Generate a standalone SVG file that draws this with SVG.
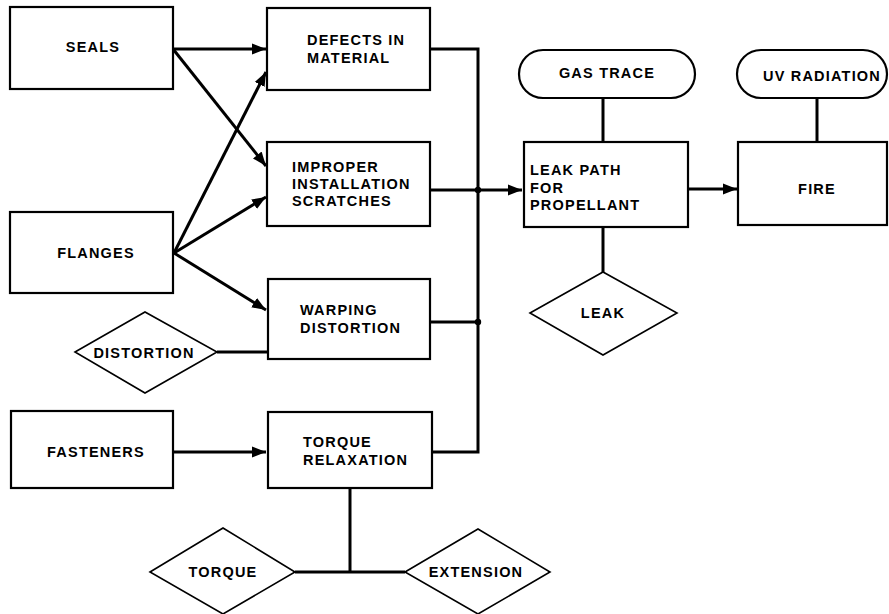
<svg xmlns="http://www.w3.org/2000/svg" width="889" height="614" viewBox="0 0 889 614">
  <style>
    .box { fill: #fff; stroke: #000; stroke-width: 2.2; }
    .dia { fill: #fff; stroke: #000; stroke-width: 1.6; }
    .con { fill: none; stroke: #000; stroke-width: 3; }
    .lbl { font-family: "Liberation Sans", Arial, sans-serif; font-weight: bold; font-size: 14.5px; letter-spacing: 1.2px; fill: #000; }
    .mid { text-anchor: middle; }
  </style>
  <defs>
    <marker id="arrow" markerUnits="userSpaceOnUse" markerWidth="16" markerHeight="14" refX="14" refY="7" orient="auto">
      <path d="M0,1.5 L14,7 L0,12.5 Z" fill="#000"/>
    </marker>
  </defs>
  <rect width="889" height="614" fill="#fff"/>

  <!-- connectors -->
  <g id="connectors">
    <path class="con" d="M173,49 L266,49" marker-end="url(#arrow)"/>
    <path class="con" d="M173,49 L266,166" marker-end="url(#arrow)"/>
    <path class="con" d="M174,253 L266,72" marker-end="url(#arrow)"/>
    <path class="con" d="M174,253 L266,197" marker-end="url(#arrow)"/>
    <path class="con" d="M174,253 L266,310" marker-end="url(#arrow)"/>
    <path class="con" d="M173,452 L266,452" marker-end="url(#arrow)"/>
    <path class="con" d="M430,49 H478 V452 H432"/>
    <path class="con" d="M430,322 H478"/>
    <path class="con" d="M430,190 H522" marker-end="url(#arrow)"/>
    <path class="con" d="M688,189 H737" marker-end="url(#arrow)"/>
    <path class="con" d="M217,352 H268"/>
    <path class="con" d="M603,98 V142"/>
    <path class="con" d="M603,227 V272"/>
    <path class="con" d="M817,98 V142"/>
    <path class="con" d="M350,488 V572"/>
    <path class="con" d="M295,572 H405"/>
    <circle cx="478" cy="190" r="3.2" fill="#000"/>
    <circle cx="478" cy="322" r="3.2" fill="#000"/>
  </g>

  <g id="seals">
    <rect class="box" x="10" y="7" width="163" height="82"/>
    <text class="lbl mid" x="93" y="52">SEALS</text>
  </g>
  <g id="flanges">
    <rect class="box" x="10" y="212" width="163" height="81"/>
    <text class="lbl mid" x="96" y="258">FLANGES</text>
  </g>
  <g id="fasteners">
    <rect class="box" x="11" y="411" width="162" height="77"/>
    <text class="lbl mid" x="96" y="457">FASTENERS</text>
  </g>
  <g id="distortion">
    <polygon class="dia" points="75,352 145,312 217,352 145,393"/>
    <text class="lbl mid" x="144" y="358">DISTORTION</text>
  </g>

  <g id="defects">
    <rect class="box" x="267" y="8" width="163" height="82"/>
    <text class="lbl" x="307" y="45">DEFECTS IN</text>
    <text class="lbl" x="307" y="63">MATERIAL</text>
  </g>
  <g id="improper">
    <rect class="box" x="267" y="142" width="163" height="84"/>
    <text class="lbl" x="292" y="172">IMPROPER</text>
    <text class="lbl" x="292" y="189">INSTALLATION</text>
    <text class="lbl" x="292" y="206">SCRATCHES</text>
  </g>
  <g id="warping">
    <rect class="box" x="268" y="279" width="162" height="80"/>
    <text class="lbl" x="300" y="315">WARPING</text>
    <text class="lbl" x="300" y="333">DISTORTION</text>
  </g>
  <g id="torque-relaxation">
    <rect class="box" x="268" y="412" width="164" height="76"/>
    <text class="lbl" x="303" y="447">TORQUE</text>
    <text class="lbl" x="303" y="465">RELAXATION</text>
  </g>
  <g id="torque">
    <polygon class="dia" points="150,572 223,528 295,572 223,614"/>
    <text class="lbl mid" x="223" y="577">TORQUE</text>
  </g>
  <g id="extension">
    <polygon class="dia" points="405,572 478,529 550,572 478,614"/>
    <text class="lbl mid" x="476" y="577">EXTENSION</text>
  </g>

  <g id="gas-trace">
    <rect class="box" x="519" y="50" width="176" height="48" rx="24" ry="24"/>
    <text class="lbl mid" x="607" y="78">GAS TRACE</text>
  </g>
  <g id="leak-path">
    <rect class="box" x="524" y="142" width="164" height="85"/>
    <text class="lbl" x="530" y="175">LEAK PATH</text>
    <text class="lbl" x="530" y="193">FOR</text>
    <text class="lbl" x="530" y="210">PROPELLANT</text>
  </g>
  <g id="leak">
    <polygon class="dia" points="530,313 603,272 677,313 603,355"/>
    <text class="lbl mid" x="603" y="318">LEAK</text>
  </g>
  <g id="uv-radiation">
    <rect class="box" x="737" y="50" width="150" height="48" rx="24" ry="24"/>
    <text class="lbl mid" x="822" y="81">UV RADIATION</text>
  </g>
  <g id="fire">
    <rect class="box" x="738" y="142" width="149" height="83"/>
    <text class="lbl mid" x="817" y="194">FIRE</text>
  </g>
</svg>
